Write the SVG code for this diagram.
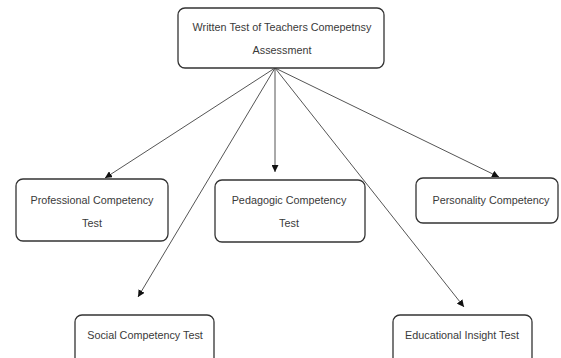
<svg xmlns="http://www.w3.org/2000/svg" width="561" height="358" viewBox="0 0 561 358">
<style>
.box{fill:#fff;stroke:#333;stroke-width:1.3}
.t{font-family:"Liberation Sans",Arial,sans-serif;font-size:10.8px;fill:#3a3a3a;text-anchor:middle}
.c{stroke:#555;stroke-width:1;fill:none;marker-end:url(#ah)}
</style>
<defs>
<marker id="ah" markerUnits="userSpaceOnUse" markerWidth="8" markerHeight="7" refX="7" refY="3.5" orient="auto">
<path d="M0,0 L7,3.5 L0,7 Z" fill="#111"/>
</marker>
</defs>
<rect width="561" height="358" fill="#fff"/>
<g id="connectors">
<line class="c" x1="275" y1="68" x2="105" y2="178"/>
<line class="c" x1="275" y1="68" x2="138" y2="297"/>
<line class="c" x1="275" y1="68" x2="275" y2="172"/>
<line class="c" x1="275" y1="68" x2="464" y2="307"/>
<line class="c" x1="275" y1="68" x2="499" y2="177"/>
</g>
<g id="root">
<rect class="box" x="178" y="8" width="206" height="60" rx="7"/>
<text class="t" x="282" y="31">Written Test of Teachers Comepetnsy</text>
<text class="t" x="282" y="54">Assessment</text>
</g>
<g id="professional">
<rect class="box" x="16" y="179" width="152" height="62" rx="7"/>
<text class="t" x="92" y="204">Professional Competency</text>
<text class="t" x="92" y="227">Test</text>
</g>
<g id="pedagogic">
<rect class="box" x="215" y="180" width="150" height="62" rx="7"/>
<text class="t" x="289" y="204">Pedagogic Competency</text>
<text class="t" x="289" y="227">Test</text>
</g>
<g id="personality">
<rect class="box" x="416" y="178" width="142" height="45" rx="7"/>
<text class="t" x="491" y="204">Personality Competency</text>
</g>
<g id="social">
<rect class="box" x="75" y="315" width="139" height="50" rx="7"/>
<text class="t" x="145" y="339">Social Competency Test</text>
</g>
<g id="educational">
<rect class="box" x="393" y="315" width="139" height="50" rx="7"/>
<text class="t" x="462" y="339">Educational Insight Test</text>
</g>
</svg>
